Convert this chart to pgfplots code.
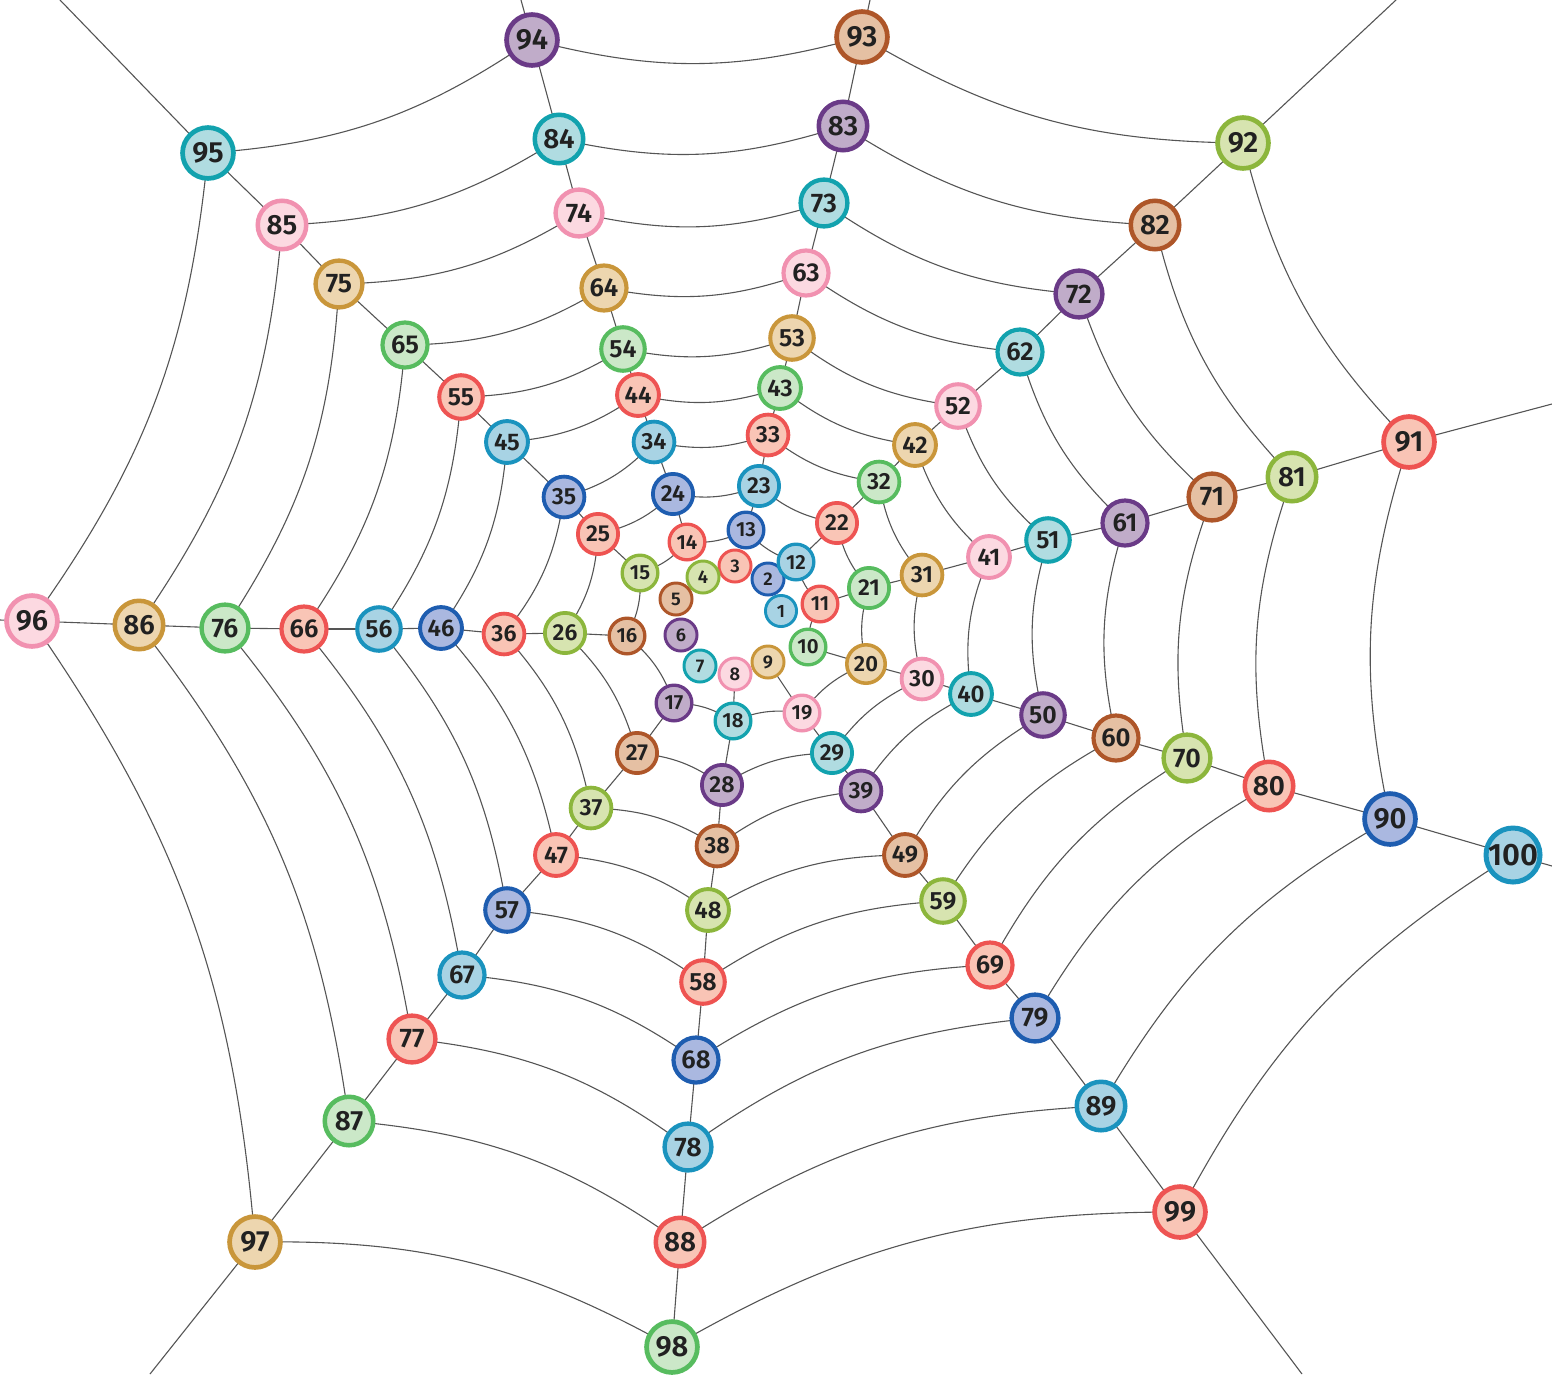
\documentclass[border=0pt]{standalone}
\usepackage{fontspec}
\setmainfont{Fira Sans}[UprightFont=* SemiBold]
\usepackage{pgfplots}
\usepackage{pgfplotstable}
\pgfplotsset{compat=1.18}

\definecolor{edgecol}{HTML}{555555}
\definecolor{txt}{HTML}{212121}
% fill / border per colour class (node number mod 11)
\definecolor{f0}{HTML}{F9C5B6}\definecolor{b0}{HTML}{EE5453}
\definecolor{f1}{HTML}{A8D3E4}\definecolor{b1}{HTML}{1A93BE}
\definecolor{f2}{HTML}{AAB8E0}\definecolor{b2}{HTML}{1E5DB0}
\definecolor{f3}{HTML}{F9C4B5}\definecolor{b3}{HTML}{EE5351}
\definecolor{f4}{HTML}{D7E4B0}\definecolor{b4}{HTML}{8CB63C}
\definecolor{f5}{HTML}{E5C0A3}\definecolor{b5}{HTML}{AE5629}
\definecolor{f6}{HTML}{C0ACC9}\definecolor{b6}{HTML}{6A3A87}
\definecolor{f7}{HTML}{B0DCE1}\definecolor{b7}{HTML}{12A2AE}
\definecolor{f8}{HTML}{FCD9E1}\definecolor{b8}{HTML}{F191B0}
\definecolor{f9}{HTML}{EDD6AF}\definecolor{b9}{HTML}{C9963A}
\definecolor{f10}{HTML}{CBE8C8}\definecolor{b10}{HTML}{57BC5F}

\tikzset{webedge/.style={draw=edgecol, line width=1.1pt}}

\pgfdeclareplotmark{webnode}{%
  \pgfmathtruncatemacro\cc{\ci}%
  \pgfsetlinewidth{\rad pt*0.17}%
  \pgfsetfillcolor{f\cc}%
  \pgfsetstrokecolor{b\cc}%
  \pgfpathcircle{\pgfpointorigin}{\rad pt*0.915}%
  \pgfusepath{fill,stroke}%
}

\pgfplotstableread{
n x y r c
1 781 611 17 1
2 768 579 17.5 2
3 735 566 17.5 3
4 703 577 17.5 4
5 676 599 17.5 5
6 681 635 17.5 6
7 700 666 17.5 7
8 735 674 17.5 8
9 768 662 17.5 9
10 808 647 19.5 10
11 820 604 19.5 0
12 796 562 19.5 1
13 746 530 19.5 2
14 687 542 19.5 3
15 640 573 19.5 4
16 627 636 19.5 5
17 674 703 19.5 6
18 733 721 19.5 7
19 802 713 19.5 8
20 866 664 21 9
21 869 588 22 10
22 837 523 22 0
23 759 486 22 1
24 673 494 22 2
25 598 534 22 3
26 565 633 22 4
27 637 753 22 5
28 722 785 22 6
29 832 753 22 7
30 922 679 22.3 8
31 922 575 22.3 9
32 879 482 22.3 10
33 768 435 22.3 0
34 654 442 22.3 1
35 564 497 22.3 2
36 504 634 22.3 3
37 591 808 22.3 4
38 717 846 22.3 5
39 861 791 22.3 6
40 971 694 22.9 7
41 989 557 22.9 8
42 915 445 22.9 9
43 780 388 22.9 10
44 638 395 22.9 0
45 507 442 22.9 1
46 441 628 22.9 2
47 556 855 22.9 3
48 708 910 22.9 4
49 905 855 22.9 5
50 1043 715 23.8 6
51 1048 540 23.8 7
52 958 406 23.8 8
53 792 338 23.8 9
54 623 349 23.8 10
55 461 397 23.8 0
56 379 629 23.8 1
57 507 910 23.8 2
58 703 982 23.8 3
59 943 901 23.8 4
60 1116 738 24.6 5
61 1125 523 24.6 6
62 1020 352 24.6 7
63 806 273 24.6 8
64 604 288 24.6 9
65 405 345 24.6 10
66 304 629 24.6 0
67 462 975 24.6 1
68 696 1060 24.6 2
69 990 965 24.6 3
70 1187 758 25.6 4
71 1212 497 25.6 5
72 1079 294 25.6 6
73 824 203 25.6 7
74 579 213 25.6 8
75 339 284 25.6 9
76 225 628 25.6 10
77 412 1039 25.6 0
78 688 1147 25.6 1
79 1035 1018 25.6 2
80 1269 786 26.5 3
81 1292 477 26.5 4
82 1155 225 26.5 5
83 843 126 26.5 6
84 559 139 26.5 7
85 282 225 26.5 8
86 139 625 26.5 9
87 349 1121 26.5 10
88 680 1242 26.5 0
89 1101 1106 26.5 1
90 1390 819 27.8 2
91 1409 442 27.8 3
92 1243 143 27.8 4
93 862 37 27.8 5
94 532 40 27.8 6
95 208 153 27.8 7
96 32 621 27.8 8
97 255 1242 27.8 9
98 672 1347 27.8 10
99 1180 1212 27.8 0
100 1513 855 29.5 1
}\webnodes

% where the outer spokes leave the picture (from nodes 91 ... 100)
\pgfplotstableread{
x y
1552 404
1396 0
870 0
521 0
60 0
0 620
150 1374
670 1374
1302 1374
1552 866
}\webends

\begin{document}
\begin{tikzpicture}
\begin{axis}[
  width=1552pt, height=1374pt, scale only axis,
  xmin=0, xmax=1552, ymin=0, ymax=1374, y dir=reverse,
  hide axis, clip=false,
]
% ring threads: node i to node i+1, sagging towards the centre
\pgfplotsforeachungrouped \i in {10,...,99}{%
  \edef\ra{\the\numexpr\i-1\relax}%
  \pgfplotstablegetelem{\ra}{x}\of\webnodes\let\xa\pgfplotsretval
  \pgfplotstablegetelem{\ra}{y}\of\webnodes\let\ya\pgfplotsretval
  \pgfplotstablegetelem{\i}{x}\of\webnodes\let\xb\pgfplotsretval
  \pgfplotstablegetelem{\i}{y}\of\webnodes\let\yb\pgfplotsretval
  \edef\temp{\noexpand\draw[webedge] (axis cs:\xa,\ya) to[bend left=15] (axis cs:\xb,\yb);}%
  \temp
}
% spokes: node i to node i+10
\pgfplotsforeachungrouped \i in {8,...,90}{%
  \edef\ra{\the\numexpr\i-1\relax}%
  \edef\rb{\the\numexpr\i+9\relax}%
  \pgfplotstablegetelem{\ra}{x}\of\webnodes\let\xa\pgfplotsretval
  \pgfplotstablegetelem{\ra}{y}\of\webnodes\let\ya\pgfplotsretval
  \pgfplotstablegetelem{\rb}{x}\of\webnodes\let\xb\pgfplotsretval
  \pgfplotstablegetelem{\rb}{y}\of\webnodes\let\yb\pgfplotsretval
  \edef\temp{\noexpand\draw[webedge] (axis cs:\xa,\ya) -- (axis cs:\xb,\yb);}%
  \temp
}
% outer spokes running off the picture
\pgfplotsforeachungrouped \i in {0,...,9}{%
  \edef\ra{\the\numexpr\i+90\relax}%
  \pgfplotstablegetelem{\ra}{x}\of\webnodes\let\xa\pgfplotsretval
  \pgfplotstablegetelem{\ra}{y}\of\webnodes\let\ya\pgfplotsretval
  \pgfplotstablegetelem{\i}{x}\of\webends\let\xb\pgfplotsretval
  \pgfplotstablegetelem{\i}{y}\of\webends\let\yb\pgfplotsretval
  \edef\temp{\noexpand\draw[webedge] (axis cs:\xa,\ya) -- (axis cs:\xb,\yb);}%
  \temp
}
\addplot[
  scatter, only marks, mark=webnode,
  point meta=explicit symbolic,
  visualization depends on={\thisrow{r}\as\rad},
  visualization depends on={\thisrow{c}\as\ci},
  scatter/@pre marker code/.code={},
  scatter/@post marker code/.code={},
  nodes near coords={\fontsize{\rad}{\rad}\selectfont\pgfplotspointmeta},
  nodes near coords style={anchor=center, inner sep=0pt, text=txt, scale=1.05},
] table[x=x, y=y, meta=n] \webnodes;
\end{axis}
\pgfresetboundingbox
\useasboundingbox (current axis.south west) rectangle (current axis.north east);
\end{tikzpicture}
\end{document}
